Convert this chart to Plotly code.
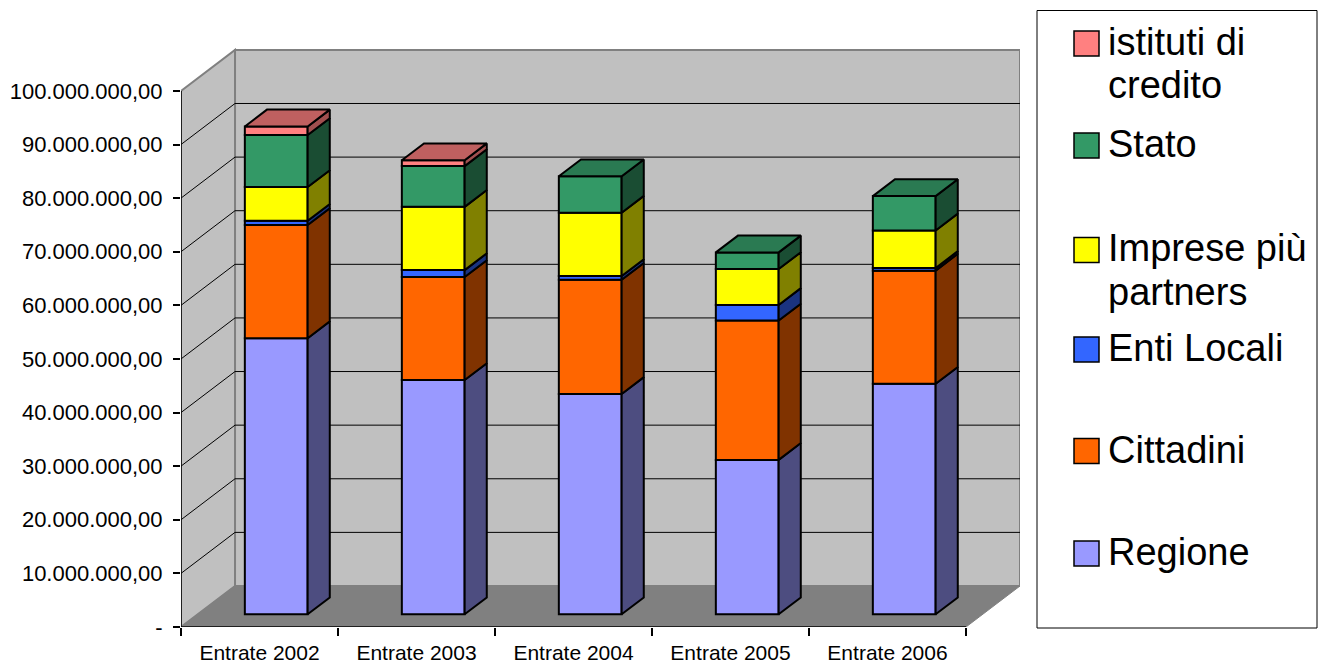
import plotly.graph_objects as go

# ---- data -------------------------------------------------------------
categories = ["Entrate 2002", "Entrate 2003", "Entrate 2004", "Entrate 2005", "Entrate 2006"]

regione = [51.5e6, 43.7e6, 41.1e6, 28.8e6, 43.0e6]
cittadini = [21.1e6, 19.2e6, 21.3e6, 26.0e6, 21.1e6]
enti_locali = [0.8e6, 1.3e6, 0.7e6, 2.9e6, 0.5e6]
imprese = [6.3e6, 11.8e6, 11.8e6, 6.7e6, 7.0e6]
stato = [9.7e6, 7.6e6, 6.8e6, 3.1e6, 6.4e6]
istituti_credito = [1.6e6, 1.1e6, 0.0, 0.0, 0.0]

series_names = ["Regione", "Cittadini", "Enti Locali", "Imprese più partners",
                "Stato", "istituti di credito"]
series_values = [regione, cittadini, enti_locali, imprese, stato, istituti_credito]

y_ticks = [i * 10e6 for i in range(11)]

# ---- styling ----------------------------------------------------------
front_colors = ["#9999FF", "#FF6600", "#3366FF", "#FFFF00", "#339966", "#FF8080"]
side_colors = ["#4D4D80", "#803300", "#1A3380", "#808000", "#1A4D33", "#A04F4F"]
top_colors = ["#7373BF", "#BF4C00", "#264CBF", "#BFBF00", "#2A7A52", "#BF6060"]

FONT = "Liberation Sans, Arial, sans-serif"

# oblique projection: full depth of the box, in axis units
DX = 0.344      # category units
DY = 7.65e6     # value units
D0, D1 = 0.31, 0.72   # depth span of the columns
BAR_W = 0.4

X_MIN, X_MAX = -0.5, 4.5 + DX
Y_MAX = 100e6 + DY + 0.35e6

W, H = 1327, 665
M_L, M_R, M_T, M_B = 181, 307, 48, 38


def it_number(v):
    if v == 0:
        return "-"
    s = f"{v:,.2f}"
    return s.replace(",", "X").replace(".", ",").replace("X", ".")


fig = go.Figure()

# ---- 3D columns -------------------------------------------------------
n = len(categories)
bases = [0.0] * n
seg_ranges = []
for vals in series_values:
    rng = []
    for k in range(n):
        b = bases[k]
        t = b + vals[k]
        rng.append((b, t) if vals[k] > 0 else None)
        if vals[k] > 0:
            bases[k] = t
    seg_ranges.append(rng)

# which series is on top of each column
top_series = []
for k in range(n):
    idx = max(i for i in range(len(series_values)) if series_values[i][k] > 0)
    top_series.append(idx)

for i, (name, vals) in enumerate(zip(series_names, series_values)):
    xs, ys, bs = [], [], []
    for k in range(n):
        r = seg_ranges[i][k]
        xs.append(k + D0 * DX)
        if r is None:
            ys.append(None)
            bs.append(0)
        else:
            ys.append(r[1] - r[0])
            bs.append(r[0] + D0 * DY)
    fig.add_trace(go.Bar(
        x=xs, y=ys, base=bs, width=BAR_W, name=name,
        marker=dict(color=front_colors[i], line=dict(color="black", width=2)),
        showlegend=False, hoverinfo="skip",
    ))

    # right-hand side faces
    sx, sy = [], []
    for k in range(n):
        r = seg_ranges[i][k]
        if r is None:
            continue
        xr = k + BAR_W / 2 + D0 * DX
        xb = xr + (D1 - D0) * DX
        b, t = r
        sx += [xr, xb, xb, xr, xr, None]
        sy += [b + D0 * DY, b + D1 * DY, t + D1 * DY, t + D0 * DY, b + D0 * DY, None]
    fig.add_trace(go.Scatter(
        x=sx, y=sy, mode="lines", fill="toself", fillcolor=side_colors[i],
        line=dict(color="black", width=2), showlegend=False, hoverinfo="skip",
    ))

    # top faces of the columns this series caps
    tx, ty = [], []
    for k in range(n):
        if top_series[k] != i:
            continue
        t = seg_ranges[i][k][1]
        xl = k - BAR_W / 2 + D0 * DX
        xr = k + BAR_W / 2 + D0 * DX
        ddx = (D1 - D0) * DX
        tx += [xl, xr, xr + ddx, xl + ddx, xl, None]
        ty += [t + D0 * DY, t + D0 * DY, t + D1 * DY, t + D1 * DY, t + D0 * DY, None]
    if tx:
        fig.add_trace(go.Scatter(
            x=tx, y=ty, mode="lines", fill="toself", fillcolor=top_colors[i],
            line=dict(color="black", width=2), showlegend=False, hoverinfo="skip",
        ))

# ---- walls, floor and gridlines ----------------------------------------
shapes = []
xb0 = X_MIN + DX
left_wall = f"M {X_MIN},0 L {X_MIN},{100e6} L {xb0},{100e6 + DY} L {xb0},{DY} Z"
back_wall = f"M {xb0},{DY} L {X_MAX},{DY} L {X_MAX},{100e6 + DY} L {xb0},{100e6 + DY} Z"
floor = f"M {X_MIN},0 L 4.5,0 L {X_MAX},{DY} L {xb0},{DY} Z"
shapes.append(dict(type="path", path=back_wall, xref="x", yref="y", layer="below",
                   fillcolor="#C0C0C0", line=dict(color="#808080", width=2)))
shapes.append(dict(type="path", path=left_wall, xref="x", yref="y", layer="below",
                   fillcolor="#C0C0C0", line=dict(color="#808080", width=2)))
shapes.append(dict(type="path", path=floor, xref="x", yref="y", layer="below",
                   fillcolor="#808080", line=dict(color="#808080", width=1)))
for v in y_ticks[1:-1]:
    shapes.append(dict(type="line", xref="x", yref="y", layer="below",
                       x0=xb0, x1=X_MAX, y0=v + DY, y1=v + DY,
                       line=dict(color="black", width=1)))
    shapes.append(dict(type="line", xref="x", yref="y", layer="below",
                       x0=X_MIN, x1=xb0, y0=v, y1=v + DY,
                       line=dict(color="black", width=1)))
# value axis and category axis lines on the front plane
shapes.append(dict(type="line", xref="x", yref="y", x0=X_MIN, x1=X_MIN, y0=0, y1=100e6,
                   line=dict(color="black", width=1.5)))
shapes.append(dict(type="line", xref="x", yref="y", x0=X_MIN, x1=4.5, y0=0, y1=0,
                   line=dict(color="black", width=1.5)))

# ---- legend (drawn by hand: Excel-style key boxes) ---------------------
pw = W - M_L - M_R
ph = H - M_T - M_B


def px_x(px):
    return (px - M_L) / pw


def px_y(py):
    return (H - M_B - py) / ph


shapes.append(dict(type="rect", xref="paper", yref="paper",
                   x0=px_x(1037), x1=px_x(1317), y0=px_y(628), y1=px_y(10.5),
                   line=dict(color="black", width=1), fillcolor="white"))

legend_rows = [
    (5, 43.5, ["istituti di", "credito"]),
    (4, 145.5, ["Stato"]),
    (3, 250.0, ["Imprese più", "partners"]),
    (2, 349.5, ["Enti Locali"]),
    (1, 451.0, ["Cittadini"]),
    (0, 553.5, ["Regione"]),
]
annotations = []
for idx, cy, lines in legend_rows:
    shapes.append(dict(type="rect", xref="paper", yref="paper",
                       x0=px_x(1074), x1=px_x(1099), y0=px_y(cy + 12.5), y1=px_y(cy - 12.5),
                       fillcolor=front_colors[idx], line=dict(color="black", width=1.5)))
    for j, txt in enumerate(lines):
        annotations.append(dict(
            text=txt, xref="paper", yref="paper", x=px_x(1106), y=px_y(cy - 1.5 + j * 43),
            xanchor="left", yanchor="middle", showarrow=False,
            font=dict(family=FONT, size=38, color="black"),
        ))

fig.update_layout(
    width=W, height=H,
    margin=dict(l=M_L, r=M_R, t=M_T, b=M_B, pad=0, autoexpand=False),
    paper_bgcolor="white", plot_bgcolor="white",
    barmode="overlay",
    showlegend=False,
    shapes=shapes,
    annotations=annotations,
    font=dict(family=FONT, size=21, color="black"),
    xaxis=dict(
        range=[X_MIN, X_MAX], tickmode="array", tickvals=list(range(n)), ticktext=categories,
        ticks="", showgrid=False, zeroline=False, showline=False,
        ticklabelstandoff=11, automargin=False,
        tickfont=dict(family=FONT, size=21, color="black"),
        minor=dict(tickmode="array", tickvals=[k - 0.5 for k in range(n + 1)],
                   ticks="outside", ticklen=8, tickwidth=1.5, tickcolor="black",
                   showgrid=False),
        fixedrange=True,
    ),
    yaxis=dict(
        range=[0, Y_MAX], tickmode="array", tickvals=y_ticks,
        ticktext=[it_number(v) for v in y_ticks],
        ticks="outside", ticklen=7, tickwidth=1.5, tickcolor="black",
        showgrid=False, zeroline=False, showline=False,
        ticklabelstandoff=6, automargin=False,
        tickfont=dict(family=FONT, size=22, color="black"),
        fixedrange=True,
    ),
)

fig.write_html("out.html")
